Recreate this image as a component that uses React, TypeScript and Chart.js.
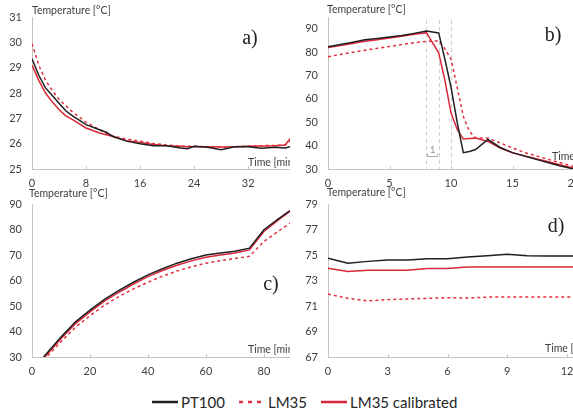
import { useEffect, useRef } from 'react';
import { Chart, registerables } from 'chart.js';

Chart.register(...registerables);

const FONT = 'Lato, "Open Sans", "DejaVu Sans", sans-serif';
const SERIF = '"Liberation Serif", "DejaVu Serif", serif';

// ---------- Data ----------
const seriesNames = ['PT100', 'LM35', 'LM35 calibrated'];
const yTitle = 'Temperature [°C]';
const xTitle = 'Time [min]';
const panelLabels = ['a)', 'b)', 'c)', 'd)'];

// Panel a
const timeA = [0, 1, 2, 3, 4, 5, 6, 8, 10, 11, 12, 14, 16, 18, 20, 22, 23, 24, 26, 28, 30, 32, 34, 36, 37.5, 38.2];
const pt100A = [29.35, 28.7, 28.2, 27.9, 27.6, 27.3, 27.1, 26.75, 26.55, 26.45, 26.28, 26.1, 26.0, 25.92, 25.92, 25.83, 25.8, 25.9, 25.86, 25.76, 25.88, 25.88, 25.82, 25.86, 25.83, 25.88];
const lm35A = [29.95, 29.1, 28.5, 28.1, 27.75, 27.5, 27.25, 26.85, 26.55, 26.42, 26.3, 26.18, 26.1, 26.0, 25.95, 25.9, 25.9, 25.9, 25.88, 25.87, 25.88, 25.9, 25.92, 25.93, 25.95, 26.1];
const calA = [29.1, 28.5, 28.0, 27.65, 27.35, 27.1, 26.95, 26.62, 26.42, 26.35, 26.28, 26.12, 26.05, 25.97, 25.92, 25.9, 25.88, 25.88, 25.88, 25.87, 25.88, 25.9, 25.91, 25.92, 25.95, 26.2];

// Panel b
const timeB = [0, 1, 2, 3, 4, 5, 6, 7, 8, 9, 9.5, 10, 10.5, 11, 11.5, 12, 13, 14, 15, 16, 17, 18, 19, 20];
const pt100B = [82.3, 83.2, 84.2, 85.3, 85.8, 86.4, 87.1, 88.0, 89.0, 88.2, 77, 65, 50, 37, 37.5, 38.3, 42.6, 39.2, 37.0, 35.5, 34.0, 32.6, 31.2, 30.0];
const lm35B = [78.0, 79.0, 79.9, 80.8, 81.6, 82.4, 83.2, 84.0, 84.6, 84.8, 81.5, 77, 65, 52.5, 46, 43.3, 43.2, 41.1, 39.0, 37.0, 35.5, 34.0, 32.5, 31.1];
const calB = [81.9, 82.8, 83.7, 84.6, 85.3, 86.0, 86.8, 87.6, 88.3, 79.7, 68, 54, 47, 42.8, 43, 43.2, 41.8, 39.0, 36.9, 35.6, 34.3, 33.0, 31.6, 30.3];
const markerTimesB = [8, 9, 10];
const markerLabelB = '1';

// Panel c
const timeC = [4, 10, 15, 20, 25, 30, 35, 40, 45, 50, 55, 60, 65, 70, 75, 80, 85, 89];
const pt100C = [30, 37.8, 43.8, 48.4, 52.6, 56.1, 59.3, 62.2, 64.6, 66.8, 68.5, 70.0, 70.8, 71.5, 72.7, 79.9, 84.2, 87.4];
const lm35C = [28.8, 36.0, 41.7, 46.2, 50.3, 53.7, 56.7, 59.3, 61.7, 63.7, 65.4, 66.8, 67.8, 68.6, 69.5, 75.3, 79.3, 82.5];
const calC = [29.5, 37.2, 43.1, 47.7, 51.9, 55.4, 58.6, 61.5, 63.9, 66.0, 67.7, 69.1, 70.0, 70.8, 72.0, 79.2, 83.8, 87.1];

// Panel d
const timeD = [0, 1, 2, 3, 4, 5, 6, 7, 8, 9, 10, 11, 12, 13];
const pt100D = [74.75, 74.35, 74.5, 74.6, 74.6, 74.7, 74.7, 74.85, 74.95, 75.05, 74.95, 74.93, 74.93, 74.93];
const lm35D = [71.94, 71.6, 71.4, 71.5, 71.55, 71.6, 71.65, 71.62, 71.7, 71.7, 71.7, 71.7, 71.7, 71.7];
const calD = [73.96, 73.7, 73.8, 73.8, 73.8, 73.95, 73.95, 74.05, 74.05, 74.05, 74.05, 74.05, 74.05, 74.05];

// ---------- Styles ----------
const BLACK = '#1f1f1f';
const RED = '#d92638';
const RED_DASH = '#e0303f';
const AXIS = '#c4c4c4';
const TEXT = '#404040';

type Panel = {
  left: number; top: number; width: number; height: number;
  padTop: number; padRight: number; yAxisWidth: number; xAxisHeight: number;
  xMin: number; xMax: number; xStep: number;
  yMin: number; yMax: number; yStep: number;
  times: number[]; series: number[][];
  label: string; labelPos: [number, number];
  titlePos: [number, number]; timePos: [number, number];
  markers?: number[];
};

const panels: Panel[] = [
  {
    left: 0, top: 0, width: 290, height: 190, padTop: 17, padRight: 0, yAxisWidth: 32, xAxisHeight: 21,
    xMin: 0, xMax: 38.2, xStep: 8, yMin: 25, yMax: 31, yStep: 1,
    times: timeA, series: [pt100A, lm35A, calA],
    label: panelLabels[0], labelPos: [250, 39], titlePos: [32, 11], timePos: [248, 163],
  },
  {
    left: 290, top: 0, width: 300, height: 190, padTop: 17, padRight: 16, yAxisWidth: 38, xAxisHeight: 21,
    xMin: 0, xMax: 20, xStep: 5, yMin: 30, yMax: 95, yStep: 10,
    times: timeB, series: [pt100B, lm35B, calB],
    label: panelLabels[1], labelPos: [263, 36], titlePos: [37, 10], timePos: [262, 157],
    markers: markerTimesB,
  },
  {
    left: 0, top: 186, width: 290, height: 194, padTop: 18, padRight: 0, yAxisWidth: 32, xAxisHeight: 23,
    xMin: 0, xMax: 89, xStep: 20, yMin: 30, yMax: 90, yStep: 10,
    times: timeC, series: [pt100C, lm35C, calC],
    label: panelLabels[2], labelPos: [271, 99], titlePos: [29, 8], timePos: [248, 164],
  },
  {
    left: 290, top: 186, width: 283, height: 194, padTop: 18, padRight: 0, yAxisWidth: 38, xAxisHeight: 23,
    xMin: 0, xMax: 12.3, xStep: 3, yMin: 67, yMax: 79, yStep: 2,
    times: timeD, series: [pt100D, lm35D, calD],
    label: panelLabels[3], labelPos: [266, 41], titlePos: [37, 7], timePos: [255, 163],
  },
];

const decorPlugin = {
  id: 'decor',
  beforeDatasetsDraw(chart: any, _args: any, opts: any) {
    const p: Panel = opts.panel;
    if (!p || !p.markers) return;
    const { ctx, chartArea } = chart;
    const xs = chart.scales.x;
    ctx.save();
    ctx.strokeStyle = '#cfcfcf';
    ctx.lineWidth = 1;
    ctx.setLineDash([4, 3]);
    p.markers.forEach((m) => {
      const px = Math.round(xs.getPixelForValue(m)) + 0.5;
      ctx.beginPath();
      ctx.moveTo(px, chartArea.top + 3);
      ctx.lineTo(px, chartArea.bottom);
      ctx.stroke();
    });
    ctx.setLineDash([]);
    // bracket between first two markers
    const x1 = xs.getPixelForValue(p.markers[0]);
    const x2 = xs.getPixelForValue(p.markers[1]);
    const by = chartArea.bottom - 12.5;
    ctx.strokeStyle = '#aaaaaa';
    ctx.beginPath();
    ctx.moveTo(x1 + 1, by - 3);
    ctx.lineTo(x1 + 1, by);
    ctx.lineTo(x2 - 1, by);
    ctx.lineTo(x2 - 1, by - 3);
    ctx.stroke();
    ctx.fillStyle = '#999999';
    ctx.font = `10px ${FONT}`;
    ctx.textAlign = 'center';
    ctx.textBaseline = 'middle';
    ctx.fillText(markerLabelB, (x1 + x2) / 2, by - 7);
    ctx.restore();
  },
  afterDraw(chart: any, _args: any, opts: any) {
    const p: Panel = opts.panel;
    if (!p) return;
    const { ctx, chartArea } = chart;
    const xs = chart.scales.x;
    ctx.save();
    // inward tick marks on x axis
    ctx.strokeStyle = AXIS;
    ctx.lineWidth = 1;
    xs.ticks.forEach((t: any) => {
      const px = Math.round(xs.getPixelForValue(t.value)) + 0.5;
      ctx.beginPath();
      ctx.moveTo(px, chartArea.bottom);
      ctx.lineTo(px, chartArea.bottom - 3);
      ctx.stroke();
    });
    ctx.fillStyle = TEXT;
    ctx.font = `10.5px ${FONT}`;
    ctx.textAlign = 'left';
    ctx.textBaseline = 'middle';
    ctx.fillText(yTitle, p.titlePos[0], p.titlePos[1]);
    ctx.fillText(xTitle, p.timePos[0], p.timePos[1]);
    ctx.fillStyle = '#222222';
    ctx.font = `20px ${SERIF}`;
    ctx.textAlign = 'center';
    ctx.fillText(p.label, p.labelPos[0], p.labelPos[1]);
    ctx.restore();
  },
};

function PanelChart({ p }: { p: Panel }) {
  const ref = useRef<HTMLCanvasElement | null>(null);
  useEffect(() => {
    if (!ref.current) return;
    const colors = [BLACK, RED_DASH, RED];
    const dashes = [[], [3, 3], []];
    const chart = new Chart(ref.current, {
      type: 'line',
      data: {
        datasets: p.series.map((vals, si) => ({
          label: seriesNames[si],
          data: p.times.map((t, i) => ({ x: t, y: vals[i] })),
          borderColor: colors[si],
          borderWidth: 1.5,
          borderDash: dashes[si],
          pointRadius: 0,
          tension: 0,
          fill: false,
        })),
      },
      options: {
        animation: false,
        responsive: false,
        devicePixelRatio: 1,
        layout: { padding: { top: p.padTop, right: p.padRight, left: 0, bottom: 0 } },
        plugins: {
          legend: { display: false },
          tooltip: { enabled: false },
          decor: { panel: p },
        } as any,
        scales: {
          x: {
            type: 'linear',
            min: p.xMin,
            max: p.xMax,
            grid: { display: false, drawTicks: false },
            border: { display: true, color: AXIS, width: 1 },
            ticks: {
              stepSize: p.xStep,
              includeBounds: false,
              autoSkip: false,
              maxRotation: 0,
              padding: 8,
              color: TEXT,
              font: { family: FONT, size: 11 },
            },
            afterFit(s: any) {
              s.height = p.xAxisHeight;
              s.paddingLeft = 0;
              s.paddingRight = 0;
            },
          },
          y: {
            type: 'linear',
            min: p.yMin,
            max: p.yMax,
            grid: { display: false, drawTicks: false },
            border: { display: true, color: AXIS, width: 1 },
            ticks: {
              stepSize: p.yStep,
              includeBounds: false,
              autoSkip: false,
              padding: 10,
              color: TEXT,
              font: { family: FONT, size: 11 },
            },
            afterFit(s: any) {
              s.width = p.yAxisWidth;
              s.paddingTop = 0;
              s.paddingBottom = 0;
            },
          },
        },
      } as any,
      plugins: [decorPlugin],
    });
    return () => chart.destroy();
  }, [p]);
  return (
    <canvas
      ref={ref}
      width={p.width}
      height={p.height}
      style={{ position: 'absolute', left: p.left, top: p.top, width: p.width, height: p.height }}
    />
  );
}

function LegendLine({ color, dashed }: { color: string; dashed?: boolean }) {
  return (
    <svg width={26} height={6} style={{ display: 'block', marginRight: 3 }}>
      <line
        x1={0}
        y1={3}
        x2={26}
        y2={3}
        stroke={color}
        strokeWidth={2.5}
        strokeDasharray={dashed ? '4 5' : undefined}
      />
    </svg>
  );
}

export default function App() {
  const legendColors = [BLACK, RED_DASH, RED];
  return (
    <div
      style={{
        position: 'absolute',
        left: 0,
        top: 0,
        width: 573,
        height: 415,
        overflow: 'hidden',
        background: '#ffffff',
      }}
    >
      {panels.map((p, i) => (
        <PanelChart key={i} p={p} />
      ))}
      <div
        style={{
          position: 'absolute',
          left: 152,
          top: 392,
          height: 20,
          display: 'flex',
          alignItems: 'center',
          fontFamily: FONT,
          fontSize: 15,
          color: '#262626',
          whiteSpace: 'nowrap',
        }}
      >
        {seriesNames.map((n, i) => (
          <div key={n} style={{ display: 'flex', alignItems: 'center', marginRight: 14 }}>
            <LegendLine color={legendColors[i]} dashed={i === 1} />
            <span>{n}</span>
          </div>
        ))}
      </div>
    </div>
  );
}
